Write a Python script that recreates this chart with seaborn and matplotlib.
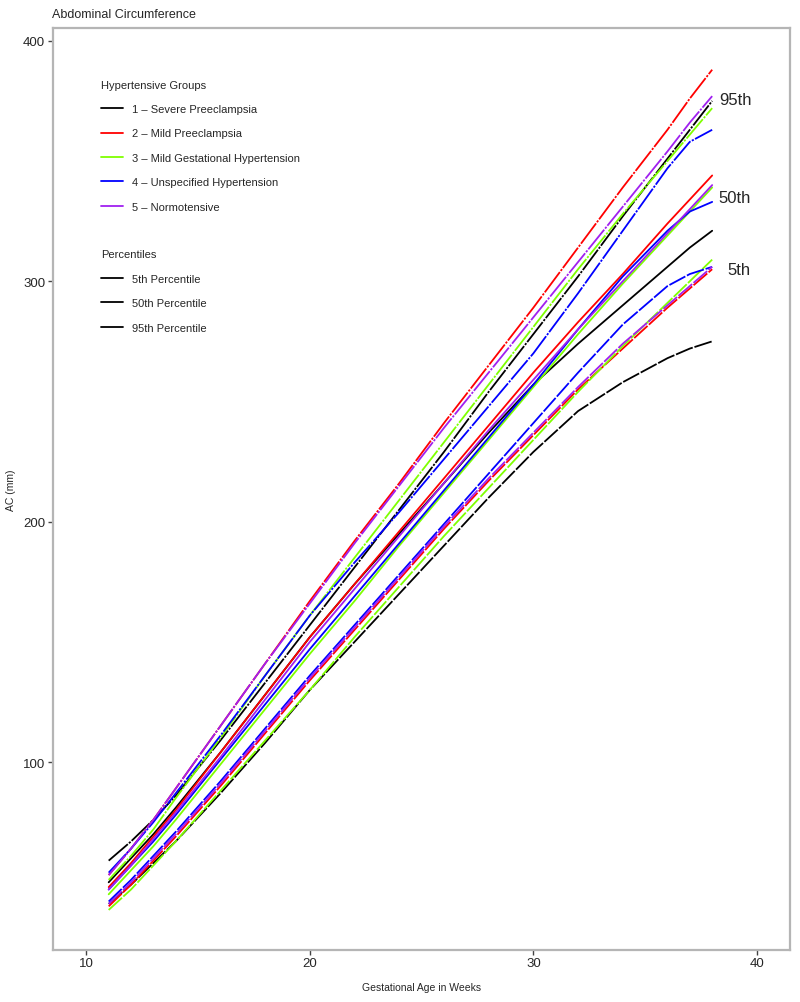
import matplotlib

matplotlib.use("Agg")

import matplotlib.pyplot as plt
import pandas as pd
import seaborn as sns
from matplotlib.lines import Line2D

weeks = [11, 12, 13, 14, 16, 18, 20, 22, 24, 26, 28, 30, 32, 34, 36, 37, 38]

groups = [
    "1 \u2013 Severe Preeclampsia",
    "2 \u2013 Mild Preeclampsia",
    "3 \u2013 Mild Gestational Hypertension",
    "4 \u2013 Unspecified Hypertension",
    "5 \u2013 Normotensive",
]
group_colors = ["#000000", "#ff0000", "#7fff00", "#0000ff", "#a020f0"]
percentiles = ["5th Percentile", "50th Percentile", "95th Percentile"]

# 95th percentile curves
severe_p95 = [59, 67, 76, 86, 109, 133, 157, 181, 205, 229, 254, 278, 302, 327, 351, 363, 375]
mild_pe_p95 = [53, 64, 76, 89, 115, 141, 167, 192, 216, 241, 265, 289, 314, 339, 363, 376, 388]
mild_gh_p95 = [51, 61, 72, 85, 110, 136, 161, 185, 209, 233, 257, 281, 305, 328, 350, 361, 372]
unspec_p95 = [54, 64, 75, 87, 111, 136, 161, 183, 204, 226, 248, 270, 295, 321, 347, 358, 363]
normo_p95 = [53, 64, 76, 89, 115, 141, 166, 191, 215, 239, 262, 285, 308, 331, 354, 366, 377]

# 50th percentile curves
severe_p50 = [50, 60, 70, 81, 104, 128, 152, 174, 195, 216, 237, 257, 274, 290, 306, 314, 321]
mild_pe_p50 = [48, 58, 69, 80, 104, 128, 152, 174, 196, 218, 240, 262, 283, 303, 324, 334, 344]
mild_gh_p50 = [45, 55, 65, 76, 99, 122, 145, 167, 190, 212, 234, 256, 278, 299, 319, 329, 339]
unspec_p50 = [47, 57, 67, 78, 101, 124, 147, 169, 191, 213, 235, 257, 280, 302, 321, 329, 333]
normo_p50 = [47, 57, 68, 79, 102, 126, 150, 172, 194, 216, 238, 259, 280, 300, 320, 330, 340]

# 5th percentile curves
severe_p5 = [41, 49, 58, 67, 87, 108, 130, 150, 170, 190, 210, 229, 246, 258, 268, 272, 275]
mild_pe_p5 = [40, 49, 59, 69, 90, 112, 134, 155, 176, 197, 217, 236, 255, 272, 289, 297, 305]
mild_gh_p5 = [38.5, 47, 57, 67, 88, 109, 130, 152, 173, 194, 214, 234, 254, 273, 291, 300, 309]
unspec_p5 = [42, 51, 61, 71, 92, 114, 136, 157, 178, 199, 220, 241, 262, 282, 298, 303, 306]
normo_p5 = [41, 50, 60, 70, 91, 113, 135, 156, 177, 198, 218, 237, 256, 274, 290, 298, 306]

curves = {
    (groups[0], percentiles[0]): severe_p5,
    (groups[1], percentiles[0]): mild_pe_p5,
    (groups[2], percentiles[0]): mild_gh_p5,
    (groups[3], percentiles[0]): unspec_p5,
    (groups[4], percentiles[0]): normo_p5,
    (groups[0], percentiles[1]): severe_p50,
    (groups[1], percentiles[1]): mild_pe_p50,
    (groups[2], percentiles[1]): mild_gh_p50,
    (groups[3], percentiles[1]): unspec_p50,
    (groups[4], percentiles[1]): normo_p50,
    (groups[0], percentiles[2]): severe_p95,
    (groups[1], percentiles[2]): mild_pe_p95,
    (groups[2], percentiles[2]): mild_gh_p95,
    (groups[3], percentiles[2]): unspec_p95,
    (groups[4], percentiles[2]): normo_p95,
}

rows = []
for (group, pct), values in curves.items():
    for week, ac in zip(weeks, values):
        rows.append({"week": week, "ac": ac, "group": group, "percentile": pct})
df = pd.DataFrame(rows)

sns.set_style("white")
plt.rcParams["font.family"] = ["Liberation Sans", "DejaVu Sans"]

fig = plt.figure(figsize=(8, 10.03), dpi=100)
ax = fig.add_axes([0.066, 0.052, 0.922, 0.919])

dash_styles = {
    percentiles[0]: (10, 1.0),
    percentiles[1]: "",
    percentiles[2]: (14, 0.8, 1.2, 0.8),
}
sns.lineplot(
    data=df, x="week", y="ac", hue="group", style="percentile",
    palette=dict(zip(groups, group_colors)), dashes=dash_styles,
    hue_order=groups, style_order=percentiles,
    linewidth=1.3, errorbar=None, legend=False, ax=ax,
)

ax.set_xlim(8.5, 41.5)
ax.set_ylim(21.9, 405.3)
ax.set_xticks([10, 20, 30, 40])
ax.set_yticks([100, 200, 300, 400])
for side in ["left", "right", "top", "bottom"]:
    ax.spines[side].set_color("#b5b5b5")
    ax.spines[side].set_linewidth(1.6)
ax.tick_params(axis="both", bottom=True, left=True, length=3.5, width=1,
               color="#444444", labelsize=9.5, pad=2)
ax.set_xlabel("Gestational Age in Weeks", fontsize=7.5, labelpad=9)
ax.set_ylabel("AC (mm)", fontsize=7.5, labelpad=5)
fig.text(0.065, 0.979, "Abdominal Circumference", fontsize=9, ha="left", va="bottom")

ax.text(38.3, 375.5, "95th", fontsize=12, ha="left", va="center")
ax.text(38.3, 335.0, "50th", fontsize=12, ha="left", va="center")
ax.text(38.7, 305.0, "5th", fontsize=12, ha="left", va="center")

group_handles = [Line2D([], [], color=c, lw=1.3) for c in group_colors]
leg1 = ax.legend(
    group_handles, groups, title="Hypertensive Groups", loc="upper left",
    bbox_to_anchor=(0.052, 0.955), frameon=False, fontsize=8, title_fontsize=8,
    handlelength=2.0, handletextpad=0.8, labelspacing=1.3, alignment="left",
)
ax.add_artist(leg1)
pct_handles = [Line2D([], [], color="black", lw=1.3) for _ in percentiles]
ax.legend(
    pct_handles, percentiles, title="Percentiles", loc="upper left",
    bbox_to_anchor=(0.052, 0.771), frameon=False, fontsize=8, title_fontsize=8,
    handlelength=2.0, handletextpad=0.8, labelspacing=1.3, alignment="left",
)

fig.savefig("out.png", dpi=100)
plt.close(fig)
